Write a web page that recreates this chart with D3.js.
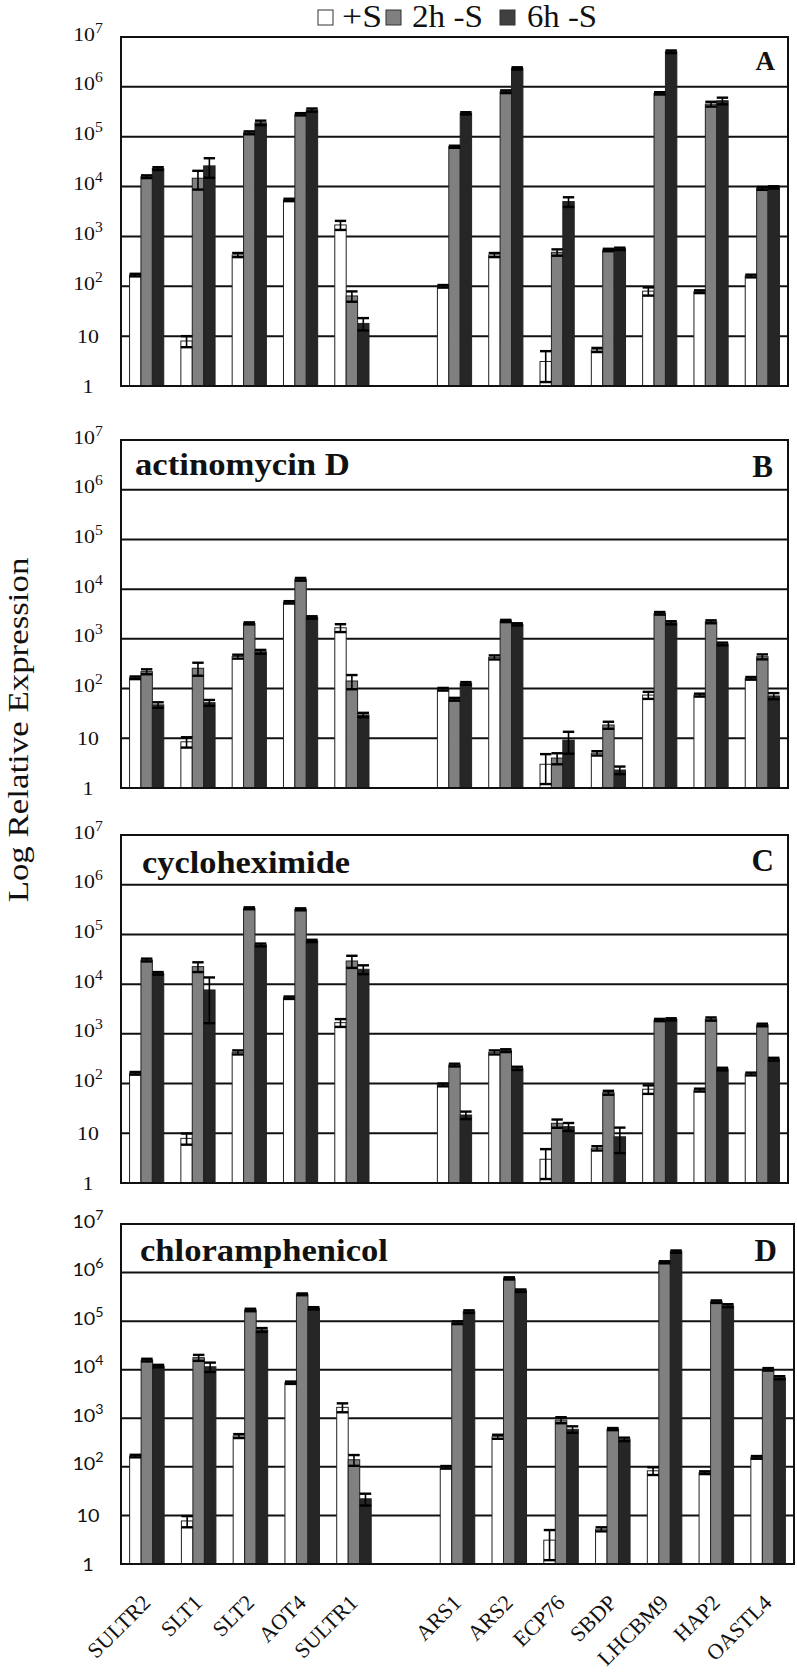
<!DOCTYPE html>
<html><head><meta charset="utf-8">
<script src="https://cdn.jsdelivr.net/npm/d3@7"></script>
<style>body{margin:0;background:#fff}svg{display:block}</style>
</head><body>
<svg id="chart" width="797" height="1673"></svg>
<script>
// ---------- data ----------
const categories = ["SULTR2","SLT1","SLT2","AOT4","SULTR1","ARS1","ARS2","ECP76","SBDP","LHCBM9","HAP2","OASTL4"];
const seriesNames = ["+S","2h -S","6h -S"];
const tickValues = [1,10,1e2,1e3,1e4,1e5,1e6,1e7];
const tickBase = ["1","10","10","10","10","10","10","10"];
const tickExp  = ["","","2","3","4","5","6","7"];

// Panel A (control)
const plusS_A    = [168, 8, 425, 5400, 1700, 100, 425, 3.1, 5.3, 80, 78, 161];
const plusS_A_se = [10, 2, 40, 300, 350, 6, 40, 1.9, 0.5, 15, 5, 10];
const h2_A       = [15800, 14700, 120000, 282000, 64, 63000, 800000, 480, 535, 742000, 452000, 9200];
const h2_A_se    = [1000, 6000, 8000, 15000, 15, 3000, 50000, 70, 30, 40000, 50000, 600];
const h6_A       = [23000, 26000, 190000, 343000, 18, 295000, 2350000, 5000, 565, 5070000, 527000, 9650];
const h6_A_se    = [1500, 11000, 20000, 25000, 5, 15000, 120000, 1100, 30, 300000, 80000, 500];
// Panel B (actinomycin D)
const plusS_B    = [165, 8.5, 440, 5430, 1670, 97, 425, 3.0, 5.0, 74, 74, 161];
const plusS_B_se = [10, 2, 40, 300, 300, 6, 40, 1.8, 0.5, 12, 5, 10];
const h2_B       = [219, 256, 2050, 15800, 142, 61, 2290, 4.0, 18.5, 3270, 2210, 437];
const h2_B_se    = [25, 75, 100, 1000, 45, 4, 120, 1, 3, 200, 150, 50];
const h6_B       = [47, 52, 550, 2700, 29.5, 127, 1960, 9.2, 2.3, 2110, 790, 71];
const h6_B_se    = [6, 7, 50, 150, 3, 8, 100, 4.3, 0.4, 150, 50, 10];
// Panel C (cycloheximide)
const plusS_C    = [161, 7.9, 425, 5340, 1680, 94, 425, 3.0, 5.0, 77, 74, 156];
const plusS_C_se = [10, 2, 40, 300, 300, 6, 40, 1.8, 0.5, 15, 5, 10];
const h2_C       = [30600, 22500, 336000, 320000, 29200, 236, 460, 15.9, 65.6, 1900, 1990, 1510];
const h2_C_se    = [2000, 5000, 15000, 15000, 8000, 15, 30, 3, 6, 100, 150, 90];
const h6_C       = [16500, 7640, 61500, 74000, 19900, 23.3, 203, 13.6, 8.5, 1960, 196, 310];
const h6_C_se    = [1000, 6000, 4000, 4000, 4000, 4, 15, 2.5, 4.5, 100, 12, 20];
// Panel D (chloramphenicol)
const plusS_D    = [167, 7.7, 432, 5400, 1680, 98, 418, 3.1, 5.2, 83, 76, 157];
const plusS_D_se = [10, 2, 40, 300, 350, 6, 40, 1.9, 0.5, 15, 5, 10];
const h2_D       = [15800, 17700, 170000, 357000, 140, 93000, 760000, 922, 600, 1630000, 252000, 10200];
const h2_D_se    = [1000, 2500, 10000, 15000, 35, 6000, 40000, 130, 30, 80000, 15000, 600];
const h6_D       = [11900, 11500, 66000, 184000, 22, 157000, 424000, 593, 369, 2700000, 208000, 6860];
const h6_D_se    = [700, 2500, 6000, 10000, 6, 10000, 25000, 90, 30, 150000, 15000, 500];

// ---------- layout ----------
const svg = d3.select("#chart");
const serif = "Liberation Serif, Times New Roman, serif";
const sans = "Lato, Liberation Sans, sans-serif";
const fills = ["#ffffff", "#808080", "#262626"];
const slots = [...categories.slice(0,5), "__gap__", ...categories.slice(5)];

// place a text at (x,y) and stretch it horizontally to a target width
function fitText(parent, x, y, str, target, opts) {
  const g = parent.append("g").attr("transform", `translate(${x},${y})${opts.rotate ? ` rotate(${opts.rotate})` : ""}`);
  const t = g.append("text").attr("x", 0).attr("y", 0)
    .attr("text-anchor", opts.anchor || "start")
    .attr("font-family", opts.family || serif)
    .attr("font-size", opts.size)
    .attr("font-weight", opts.weight || "normal")
    .attr("fill", "#111").text(str);
  const len = t.node().getComputedTextLength();
  if (len > 0) t.attr("transform", `scale(${target / len},1)`);
  return t;
}

const panels = [
  {label:"A", title:"", vals:[plusS_A,h2_A,h6_A], errs:[plusS_A_se,h2_A_se,h6_A_se],
   l:121, r:788, t:37, b:386, tickFont:serif, labelX:775, labelY:70, labelSize:27},
  {label:"B", title:"actinomycin D", tx:135, ty:475, tw:215, vals:[plusS_B,h2_B,h6_B], errs:[plusS_B_se,h2_B_se,h6_B_se],
   l:121, r:788, t:440, b:788, tickFont:serif, labelX:773, labelY:477, labelSize:31},
  {label:"C", title:"cycloheximide", tx:142, ty:873, tw:208, vals:[plusS_C,h2_C,h6_C], errs:[plusS_C_se,h2_C_se,h6_C_se],
   l:121, r:788, t:835, b:1183, tickFont:serif, labelX:774, labelY:871, labelSize:31},
  {label:"D", title:"chloramphenicol", tx:140, ty:1261, tw:248, vals:[plusS_D,h2_D,h6_D], errs:[plusS_D_se,h2_D_se,h6_D_se],
   l:121, r:794, t:1224, b:1564, tickFont:sans, labelX:777, labelY:1261, labelSize:31}
];

let lastX0 = null;
panels.forEach((p) => {
  const g = svg.append("g");
  const x0 = d3.scaleBand().domain(slots).range([p.l, p.r]);
  const x1 = d3.scaleBand().domain([0,1,2]).range([0, x0.bandwidth()]).paddingOuter(0.75);
  const y = d3.scaleLog().domain([1, 1e7]).range([p.b, p.t]);
  lastX0 = x0;

  // gridlines
  g.append("g").selectAll("line").data(tickValues.slice(1, -1)).join("line")
    .attr("x1", p.l).attr("x2", p.r)
    .attr("y1", d => y(d)).attr("y2", d => y(d))
    .attr("stroke", "#111").attr("stroke-width", 2);

  // bars
  p.vals.forEach((arr, s) => {
    g.append("g").selectAll("rect").data(arr).join("rect")
      .attr("x", (d, i) => x0(categories[i]) + x1(s))
      .attr("width", x1.bandwidth())
      .attr("y", d => y(d))
      .attr("height", d => p.b - y(d))
      .attr("fill", fills[s])
      .attr("stroke", "#222").attr("stroke-width", 1);
  });

  // error bars
  p.vals.forEach((arr, s) => {
    const eg = g.append("g").attr("stroke", "#000");
    arr.forEach((v, i) => {
      const e = p.errs[s][i];
      const cx = x0(categories[i]) + x1(s) + x1.bandwidth() / 2;
      const hw = x1.bandwidth() / 2;
      const yHi = y(v + e);
      const yLo = y(Math.max(1, v - e));
      eg.append("line").attr("x1", cx).attr("x2", cx).attr("y1", yHi).attr("y2", yLo).attr("stroke-width", 1.6);
      eg.append("line").attr("x1", cx - hw).attr("x2", cx + hw).attr("y1", yHi).attr("y2", yHi).attr("stroke-width", 2.4);
      eg.append("line").attr("x1", cx - hw).attr("x2", cx + hw).attr("y1", yLo).attr("y2", yLo).attr("stroke-width", 2.4);
    });
  });

  // border
  g.append("rect").attr("x", p.l).attr("y", p.t).attr("width", p.r - p.l).attr("height", p.b - p.t)
    .attr("fill", "none").attr("stroke", "#111").attr("stroke-width", 2);

  // y axis tick labels
  const isSans = p.tickFont === sans;
  const ax = g.append("g").attr("transform", `translate(${p.l},0)`)
    .call(d3.axisLeft(y).tickValues(tickValues).tickSize(0).tickFormat(""));
  ax.select(".domain").remove();
  ax.selectAll(".tick").each(function(d) {
    const i = tickValues.indexOf(d);
    const hasExp = tickExp[i] !== "";
    const t = d3.select(this).select("text");
    t.attr("x", null).attr("dy", null)
      .attr("transform", `translate(${88 - p.l},${hasExp ? 3 : 6}) scale(${isSans ? 1.1 : 1.12},1)`)
      .attr("text-anchor", "middle")
      .attr("font-family", p.tickFont)
      .attr("font-size", isSans ? 18 : 19.5)
      .attr("fill", "#111");
    t.append("tspan").text(tickBase[i]);
    if (hasExp) t.append("tspan").attr("dy", -8).attr("font-size", isSans ? 13 : 14).text(tickExp[i]);
  });

  // panel letter
  g.append("text").attr("x", p.labelX).attr("y", p.labelY)
    .attr("text-anchor", "end").attr("font-family", serif).attr("font-weight", "bold")
    .attr("font-size", p.labelSize).attr("fill", "#111").text(p.label);

  // treatment title
  if (p.title) {
    fitText(g, p.tx, p.ty, p.title, p.tw, {size: 31, weight: "bold"});
  }
});

// x category labels (under last panel)
svg.append("g").selectAll("text").data(categories).join("text")
  .attr("transform", d => `translate(${lastX0(d) + lastX0.bandwidth() / 2 + 5},1604) rotate(-45)`)
  .attr("text-anchor", "end")
  .attr("font-family", serif).attr("font-size", 22).attr("fill", "#111")
  .text(d => d);

// y axis title
fitText(svg, 28, 730, "Log Relative Expression", 345, {size: 30, anchor: "middle", rotate: -90});

// legend
const legendItems = [
  {sq: 318, tx: 342, tw: 40},
  {sq: 386, tx: 412, tw: 71},
  {sq: 500, tx: 527, tw: 70}
];
const legendFills = ["#ffffff", "#808080", "#404040"];
const lg = svg.append("g");
seriesNames.forEach((name, i) => {
  const it = legendItems[i];
  lg.append("rect").attr("x", it.sq).attr("y", 10).attr("width", 15).attr("height", 15)
    .attr("fill", legendFills[i]).attr("stroke", "#333").attr("stroke-width", 1);
  fitText(lg, it.tx, 27, name, it.tw, {size: 31});
});
</script>
</body></html>
